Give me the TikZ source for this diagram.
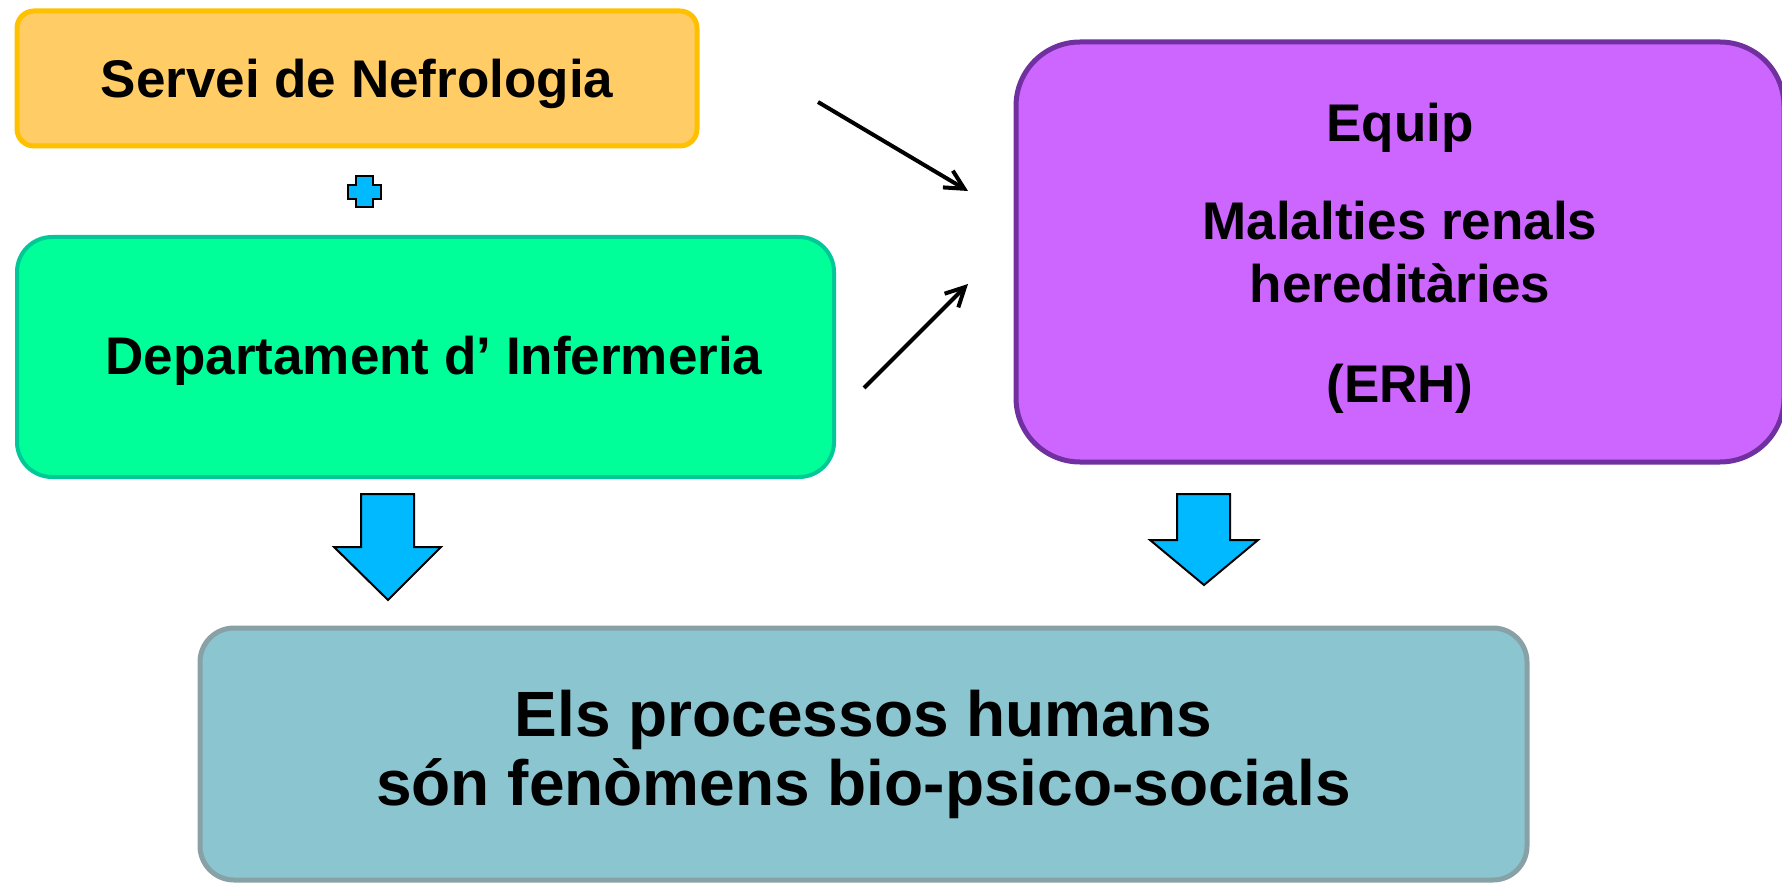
\documentclass[tikz,border=0pt]{standalone}
\usepackage{fontspec}
\setmainfont{Liberation Sans}
\usetikzlibrary{arrows.meta}
\definecolor{orfill}{HTML}{FFCC66}
\definecolor{ordraw}{HTML}{FFC000}
\definecolor{grfill}{HTML}{00FF99}
\definecolor{grdraw}{HTML}{00C896}
\definecolor{pufill}{HTML}{CC66FF}
\definecolor{pudraw}{HTML}{7030A0}
\definecolor{tefill}{HTML}{8BC5CF}
\definecolor{tedraw}{HTML}{87A1A6}
\definecolor{bigblue}{HTML}{00B9FF}
\begin{document}
\begin{tikzpicture}[x=0.5pt,y=-0.5pt,
  lbl/.style={font=\bfseries\fontsize{26.5pt}{31.5pt}\selectfont},
  orbox/.style={lbl, draw=ordraw, fill=orfill, line width=2.5pt, rounded corners=8.5pt, inner sep=0pt},
  grbox/.style={lbl, draw=grdraw, fill=grfill, line width=2pt, rounded corners=17.5pt, inner sep=0pt},
  pubox/.style={draw=pudraw, fill=pufill, line width=2.5pt, rounded corners=32pt, inner sep=0pt},
  tebox/.style={draw=tedraw, fill=tefill, line width=2.5pt, rounded corners=17pt, inner sep=0pt, align=center,
     font=\bfseries\fontsize{32pt}{34.5pt}\selectfont},
  erhline/.style={lbl, anchor=base, inner sep=0pt},
  thinarrow/.style={line width=2pt, -{Straight Barb[length=9.5pt,width=9.7pt,line width=2pt]}},
  bluearrow/.style={draw=black, fill=bigblue, line width=1pt, line join=miter}
]
\useasboundingbox (0,0) rectangle (1782,887);

\node[orbox, minimum width=340pt, minimum height=67.5pt, text height=24pt, text depth=5pt] (nef) at (357,78.5) {Servei de Nefrologia};

\draw[bluearrow] (356,176) -- (373,176) -- (373,185) -- (381,185) -- (381,199) -- (373,199) -- (373,207) -- (356,207) -- (356,199) -- (348,199) -- (348,185) -- (356,185) -- cycle;

\node[grbox, minimum width=408.5pt, minimum height=120pt, text height=24pt, text depth=6pt] (inf) at (425.5,357) {\hspace*{8.5pt}Departament d’ Infermeria};

\node[pubox, minimum width=384pt, minimum height=210pt] (erh) at (1400,252) {};
\node[erhline] (l1) at (1400,142) {Equip};
\node[erhline] (l2) at (1400,240) {Malalties renals};
\node[erhline] (l3) at (1400,303) {hereditàries};
\node[erhline] (l4) at (1400,402) {(ERH)};

\node[tebox, minimum width=663.5pt, minimum height=126pt] (proc) at (863.5,754) {Els processos humans\\són fenòmens bio-psico-socials};

\coordinate (a1s) at (818,102);
\coordinate (a1e) at (968,191);
\coordinate (a2s) at (864,388);
\coordinate (a2e) at (968,284);
\draw[thinarrow] (a1s) -- (a1e);
\draw[thinarrow] (a2s) -- (a2e);

\draw[bluearrow] (361,494) -- (414,494) -- (414,547) -- (441,547) -- (388,600) -- (334,547) -- (361,547) -- cycle;
\draw[bluearrow] (1177,494) -- (1230,494) -- (1230,540) -- (1258,540) -- (1204,585) -- (1150,540) -- (1177,540) -- cycle;
\end{tikzpicture}
\end{document}
